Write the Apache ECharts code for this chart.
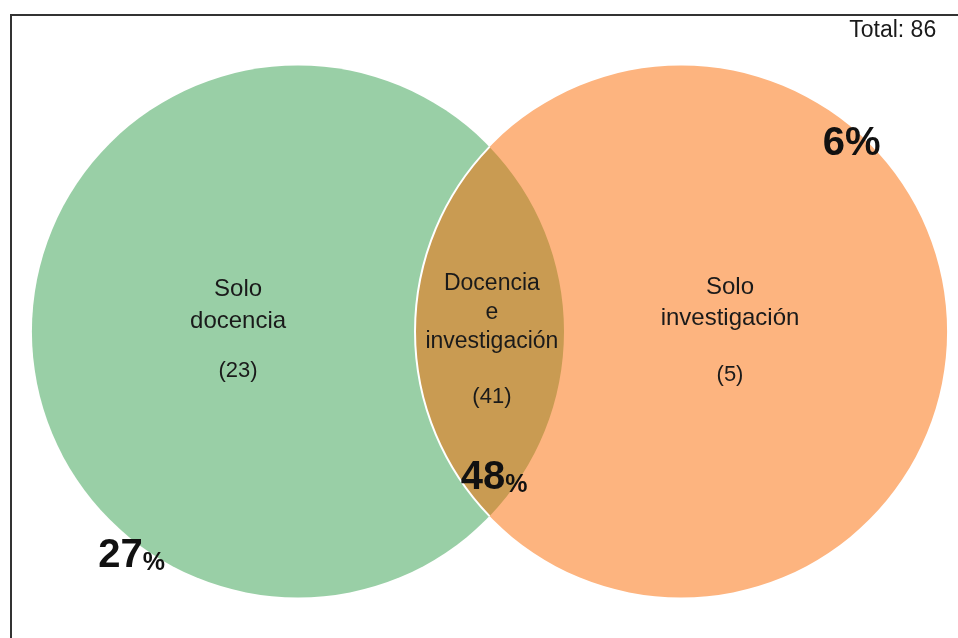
<!DOCTYPE html>
<html>
<head>
<meta charset="utf-8">
<script src="https://cdn.jsdelivr.net/npm/echarts@6/dist/echarts.min.js"></script>
<style>
html,body{margin:0;padding:0;background:#fff;}
#chart{width:958px;height:638px;}
</style>
</head>
<body>
<div id="chart"></div>
<script>
// ---- data ----
const regionNames = ['Solo\ndocencia', 'Docencia\ne\ninvestigación', 'Solo\ninvestigación'];
const regionCounts = [23, 41, 5];
const regionPercents = [27, 48, 6];
const totalCount = 86;
const setColors = ['#99CFA6', '#FDB47F'];
const overlapColor = '#C99B52';

// ---- layout (data units: circle radius = 1) ----
const circleCenters = [[-0.72, 0], [0.72, 0]];
const circleRadius = 1;
const nameAnchors = [[-0.945, 0.100], [0.009, 0.072], [0.904, 0.109]];
const countAnchors = [[-0.945, -0.150], [0.009, -0.246], [0.904, -0.163]];
const pctAnchors = [[-1.345, -0.840], [0.017, -0.547], [1.361, 0.709]];
const totalAnchor = [1.679, 1.130];
const nameSizes = [24, 23, 24];
const nameLineHeights = [32, 29, 31];

const FONT = '"Liberation Sans", Arial, Helvetica, sans-serif';
const chart = echarts.init(document.getElementById('chart'), null, {renderer: 'canvas'});

function circleItem(params, api) {
  const c = api.coord([api.value(0), api.value(1)]);
  const r = api.size([circleRadius, circleRadius])[0];
  return {
    type: 'circle',
    shape: {cx: c[0], cy: c[1], r: r},
    style: {fill: setColors[params.dataIndex], stroke: null}
  };
}

function lensItem(params, api) {
  const a = api.coord(circleCenters[0]);
  const b = api.coord(circleCenters[1]);
  const r = api.size([circleRadius, circleRadius])[0];
  const d = Math.hypot(b[0] - a[0], b[1] - a[1]);
  const mx = (a[0] + b[0]) / 2, my = (a[1] + b[1]) / 2;
  const h = Math.sqrt(r * r - (d / 2) * (d / 2));
  const top = [mx, my - h], bot = [mx, my + h];
  const lens = 'M' + top[0] + ' ' + top[1] +
    ' A' + r + ' ' + r + ' 0 0 0 ' + bot[0] + ' ' + bot[1] +
    ' A' + r + ' ' + r + ' 0 0 0 ' + top[0] + ' ' + top[1] + ' Z';
  const edge = 'M' + top[0] + ' ' + top[1] +
    ' A' + r + ' ' + r + ' 0 0 0 ' + bot[0] + ' ' + bot[1];
  return {
    type: 'group',
    children: [
      {type: 'path', shape: {pathData: lens}, style: {fill: overlapColor, stroke: null}},
      {type: 'path', shape: {pathData: edge}, style: {fill: null, stroke: '#ffffff', lineWidth: 2}}
    ]
  };
}

function labelItem(params, api) {
  const i = params.dataIndex;
  const n = api.coord(nameAnchors[i]);
  const c = api.coord(countAnchors[i]);
  const p = api.coord(pctAnchors[i]);
  const pctText = i === 2
    ? '{a|' + regionPercents[i] + '%}'
    : '{a|' + regionPercents[i] + '}{b|%}';
  return {
    type: 'group',
    children: [
      {type: 'text', x: n[0], y: n[1], style: {
        text: regionNames[i], font: nameSizes[i] + 'px ' + FONT, lineHeight: nameLineHeights[i],
        fill: '#1a1a1a', align: 'center', verticalAlign: 'middle'}},
      {type: 'text', x: c[0], y: c[1], style: {
        text: '(' + regionCounts[i] + ')', font: '22px ' + FONT,
        fill: '#1a1a1a', align: 'center', verticalAlign: 'middle'}},
      {type: 'text', x: p[0], y: p[1], style: {
        text: pctText, align: 'center', verticalAlign: 'middle',
        rich: {
          a: {fontFamily: FONT, fontWeight: 'bold', fontSize: 40, fill: '#111', verticalAlign: 'bottom', lineHeight: 42},
          b: {fontFamily: FONT, fontWeight: 'bold', fontSize: 25, fill: '#111', verticalAlign: 'bottom', lineHeight: 33}
        }}}
    ]
  };
}

const option = {
  animation: false,
  backgroundColor: '#ffffff',
  grid: {left: 0, right: 0, top: 0, bottom: 0},
  xAxis: {type: 'value', min: -1.840, max: 1.761, show: false},
  yAxis: {type: 'value', min: -1.152, max: 1.246, show: false},
  graphic: [
    {type: 'rect', shape: {x: 11, y: 15, width: 1200, height: 900},
     style: {fill: null, stroke: '#333333', lineWidth: 2}, z: 100}
  ],
  series: [
    {type: 'custom', renderItem: circleItem, data: circleCenters, z: 1, silent: true},
    {type: 'custom', renderItem: lensItem, data: [[0, 0]], z: 2, silent: true},
    {type: 'custom', renderItem: labelItem, data: regionCounts.map((v, i) => [i, v]), z: 3, silent: true},
    {type: 'custom', data: [totalAnchor], z: 3, silent: true,
     renderItem: function (params, api) {
       const t = api.coord([api.value(0), api.value(1)]);
       return {type: 'text', x: t[0], y: t[1], style: {
         text: 'Total: ' + totalCount, font: '23px ' + FONT, fill: '#1a1a1a',
         align: 'right', verticalAlign: 'middle'}};
     }}
  ]
};
chart.setOption(option);
</script>
</body>
</html>
